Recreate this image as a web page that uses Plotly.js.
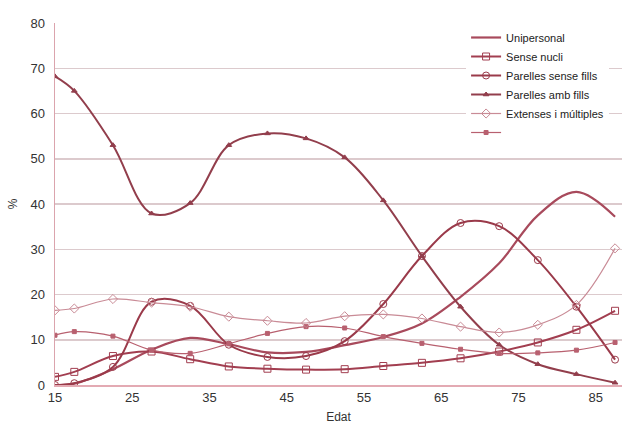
<!DOCTYPE html>
<html>
<head>
<meta charset="utf-8">
<script src="https://cdn.plot.ly/plotly-3.0.1.min.js"></script>
<style>
  html, body { margin: 0; padding: 0; background: #ffffff; }
  #chart { width: 626px; height: 430px; }
</style>
</head>
<body>
<div id="chart"></div>
<script>
// Age (Edat) positions of the points
const ages = [15, 17.5, 22.5, 27.5, 32.5, 37.5, 42.5, 47.5, 52.5, 57.5, 62.5, 67.5, 72.5, 77.5, 82.5, 87.5];

// Series values (%)
const unipersonal       = [0, 0.3, 3.5, 7.8, 10.4, 9.0, 7.2, 7.3, 8.8, 10.6, 13.6, 19.5, 26.9, 37.5, 42.7, 37.2];
const senseNucli        = [1.8, 2.9, 6.4, 7.4, 5.7, 4.1, 3.6, 3.4, 3.5, 4.2, 4.9, 5.9, 7.4, 9.4, 12.2, 16.4];
const parellesSenseFills= [0, 0.4, 4.0, 18.4, 17.5, 8.9, 6.2, 6.4, 9.7, 17.9, 28.5, 35.8, 35.1, 27.6, 17.3, 5.6];
const parellesAmbFills  = [68.2, 65.0, 53.0, 37.9, 40.2, 53.0, 55.6, 54.5, 50.3, 40.8, 28.5, 17.3, 8.9, 4.6, 2.4, 0.5];
const sensenom          = [11.0, 11.8, 10.8, 7.7, 7.0, 9.1, 11.4, 12.9, 12.6, 10.7, 9.2, 7.9, 7.0, 7.1, 7.7, 9.4];
const extenses          = [16.5, 16.9, 19.0, 18.2, 17.3, 15.1, 14.2, 13.7, 15.2, 15.6, 14.7, 12.9, 11.6, 13.3, 17.7, 30.2];

const seriesNames = ["Unipersonal", "Sense nucli", "Parelles sense fills", "Parelles amb fills", "", "Extenses i múltiples"];

// Axis ticks
const xTicks = [15, 25, 35, 45, 55, 65, 75, 85];
const yTicks = [0, 10, 20, 30, 40, 50, 60, 70, 80];

function tr(y, name, color, width, symbol, msize, rank) {
  const t = {
    x: ages, y: y, name: name, type: 'scatter',
    mode: symbol ? 'lines+markers' : 'lines',
    line: { color: color, width: width, shape: 'spline', smoothing: 1 },
    legendrank: rank
  };
  if (symbol) t.marker = { symbol: symbol, size: msize, color: color, line: { color: color, width: 1 } };
  return t;
}

const data = [
  tr(unipersonal,        seriesNames[0], '#a84a5c', 2.2, null, 0, 1),
  tr(senseNucli,         seriesNames[1], '#a23e50', 2, 'square-open', 7, 2),
  tr(parellesSenseFills, seriesNames[2], '#9a3a4a', 2, 'circle-open', 7, 3),
  tr(parellesAmbFills,   seriesNames[3], '#923e4c', 2, 'triangle-up', 5, 4),
  tr(sensenom,           seriesNames[4], '#b8606f', 1.2, 'square', 4, 6),
  tr(extenses,           seriesNames[5], '#c98b96', 1.2, 'diamond-open', 7, 5)
];

const layout = {
  width: 626, height: 430,
  margin: { l: 55, r: 4, t: 23, b: 45, pad: 0 },
  paper_bgcolor: '#ffffff', plot_bgcolor: '#ffffff',
  font: { family: 'Liberation Sans, Arial, sans-serif', size: 12, color: '#333333' },
  showlegend: true,
  legend: {
    x: 0.725, y: 1.0, xanchor: 'left', yanchor: 'top',
    bgcolor: '#ffffff', borderwidth: 0,
    font: { family: 'Liberation Sans, Arial, sans-serif', size: 11, color: '#222222' },
    itemwidth: 30, tracegroupgap: 0
  },
  xaxis: {
    range: [15, 88.4],
    tickvals: xTicks, ticktext: xTicks.map(String),
    showgrid: false, zeroline: false,
    showline: true, linecolor: '#e3aab3', linewidth: 1.5,
    ticks: '', tickfont: { size: 13, color: '#333333' },
    title: { text: 'Edat', font: { size: 12, color: '#333333' }, standoff: 8 }
  },
  yaxis: {
    range: [0, 80],
    tickvals: yTicks, ticktext: yTicks.map(String),
    showgrid: true, gridcolor: '#dccacd', gridwidth: 1.5,
    zeroline: false,
    showline: true, linecolor: '#dba4ad', linewidth: 1.5,
    ticks: '', tickfont: { size: 13, color: '#333333' },
    ticklabelstandoff: 6,
    title: { text: '%', font: { size: 12, color: '#333333' }, standoff: 10 }
  }
};

Plotly.newPlot('chart', data, layout, { displayModeBar: false, staticPlot: true });
</script>
</body>
</html>
